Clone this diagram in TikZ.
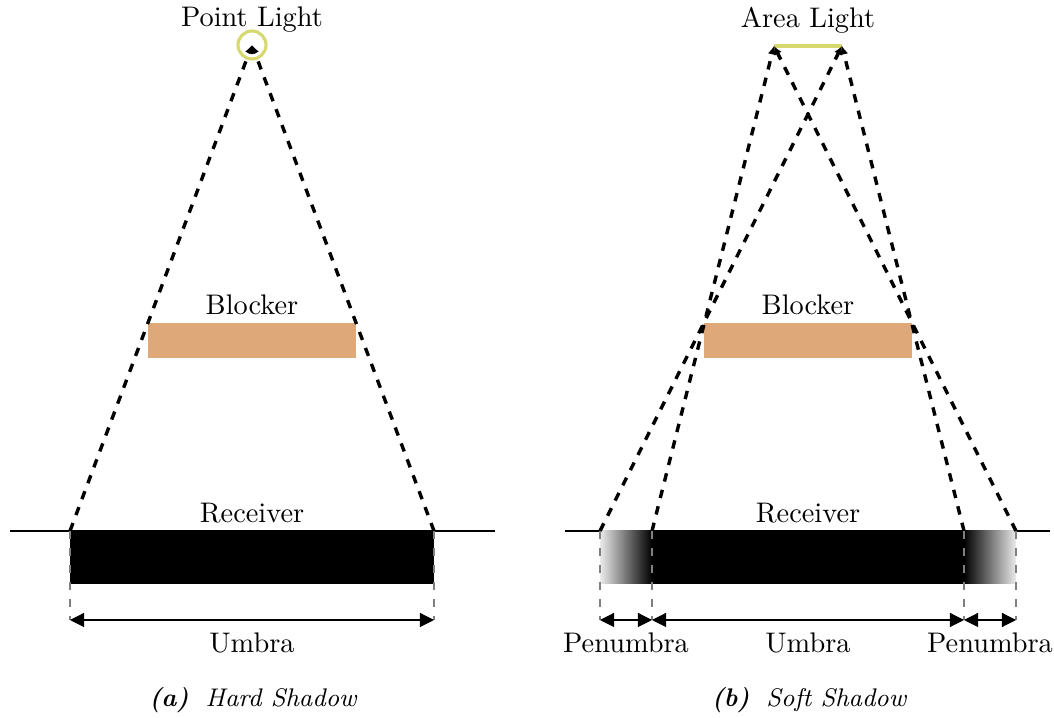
\documentclass[tikz,border=0pt]{standalone}
\usetikzlibrary{arrows.meta}

\definecolor{lampcol}{RGB}{214,216,112}
\definecolor{blockcol}{RGB}{222,168,120}

\tikzset{
  ray/.style={line width=1.2pt,dashed,-{Latex[length=3pt,width=3pt]}},
  guide/.style={gray,dashed,thin},
  dim/.style={thin,{Triangle[length=5pt,width=5pt]}-{Triangle[length=5pt,width=5pt]}},
  caption/.style={font=\small\itshape}
}

\begin{document}
\begin{tikzpicture}[x=0.353pt,y=-0.353pt]
  \useasboundingbox (0,0) rectangle (1054,718);

  % ---- hard shadow ----
  \coordinate (p)  at (252,45);
  \coordinate (h1) at (70,531);
  \coordinate (h2) at (434,531);
  \coordinate (hd1) at (70,620);
  \coordinate (hd2) at (434,620);

  \draw (10,531) -- (495,531);
  \fill[blockcol] (148,323) rectangle (356,358);
  \fill[black] (h1) rectangle (434,584);
  \draw[lampcol,line width=1.1pt] (p) circle[radius=14];

  \node (plabel) at (252,20)  {Point Light};
  \node (hblock) at (252,305) {Blocker};
  \node (hrecv)  at (252,513) {Receiver};

  \foreach \g in {h1,h2}
    \draw[ray] (\g) -- (p);
  \draw[guide] (h1) -- (hd1);
  \draw[guide] (h2) -- (hd2);
  \draw[dim] (hd1) -- node[below=1pt] (humbra) {Umbra} (hd2);

  \node[caption] (hcap) at (253,700) {\textbf{(a)}\hspace{6pt}Hard Shadow};

  % ---- soft shadow ----
  \coordinate (a1) at (774,46);
  \coordinate (a2) at (842,46);
  \coordinate (s1) at (600,531);
  \coordinate (s2) at (652,531);
  \coordinate (s3) at (964,531);
  \coordinate (s4) at (1016,531);

  \draw (565,531) -- (1050,531);
  \fill[blockcol] (704,323) rectangle (912,358);
  \shade[left color=black!8,right color=black] (s1) rectangle (652,584);
  \fill[black] (s2) rectangle (964,584);
  \shade[left color=black,right color=black!8] (s3) rectangle (1016,584);
  \draw[lampcol,line width=1.3pt] (a1) -- (a2);

  \node (alabel) at (808,20)  {Area Light};
  \node (sblock) at (808,305) {Blocker};
  \node (srecv)  at (808,513) {Receiver};

  \foreach \g/\l in {s1/a2,s2/a1,s3/a2,s4/a1}
    \draw[ray] (\g) -- (\l);
  \foreach \g in {s1,s2,s3,s4}
    \draw[guide] (\g) -- ++(0,89) coordinate (\g d);

  \draw[dim] (s1d) -- node[below=1pt] (pen1) {Penumbra} (s2d);
  \draw[dim] (s2d) -- node[below=1pt] (sumbra) {Umbra} (s3d);
  \draw[dim] (s3d) -- node[below=1pt] (pen2) {Penumbra} (s4d);

  \node[caption] (scap) at (809,700) {\textbf{(b)}\hspace{6pt}Soft Shadow};
\end{tikzpicture}
\end{document}
